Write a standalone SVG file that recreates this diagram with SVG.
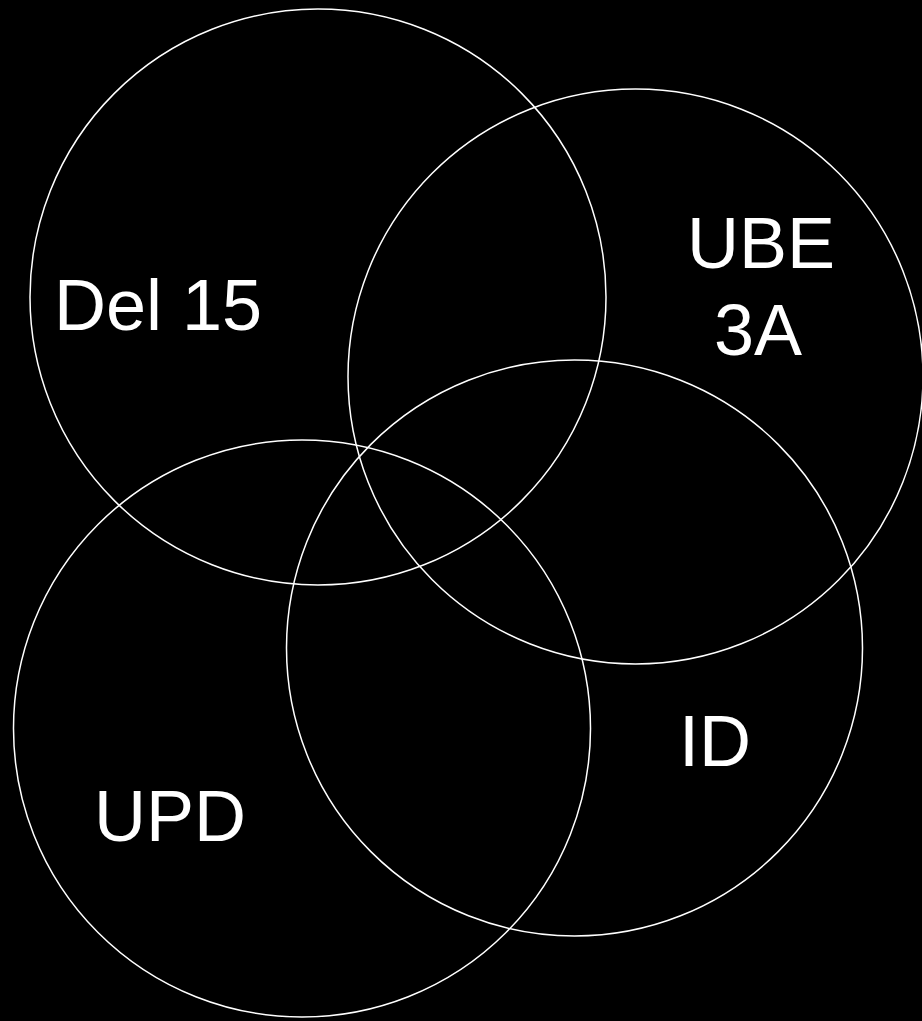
<svg xmlns="http://www.w3.org/2000/svg" width="922" height="1021" viewBox="0 0 922 1021">
<style>
.c{fill:none;stroke:#fff;stroke-width:1.5}
.t{fill:#fff;font-family:"Comic Sans MS","Liberation Sans",sans-serif;font-size:72px;text-anchor:middle}
</style>
<rect width="922" height="1021" fill="#000"/>
<g id="del15"><circle class="c" cx="318" cy="297" r="288"/><text class="t" x="158" y="330">Del 15</text></g>
<g id="ube3a"><circle class="c" cx="635.5" cy="376.5" r="287.5"/><text class="t" x="761" y="268">UBE</text><text class="t" x="758" y="355">3A</text></g>
<g id="id"><circle class="c" cx="574.5" cy="648" r="288"/><text class="t" x="715" y="766">ID</text></g>
<g id="upd"><circle class="c" cx="302" cy="728.5" r="288.5"/><text class="t" x="170" y="841">UPD</text></g>
<g id="connectors"></g>
</svg>
